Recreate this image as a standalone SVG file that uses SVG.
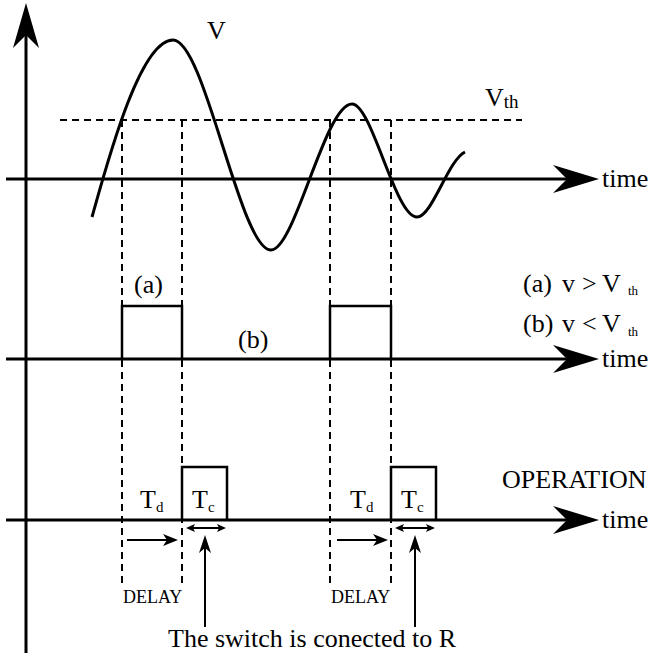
<svg xmlns="http://www.w3.org/2000/svg" width="650" height="657" viewBox="0 0 650 657">
<style>
.ax{stroke:#000;stroke-width:3;fill:none}
.dash{stroke:#000;stroke-width:2;fill:none;stroke-dasharray:7 5}
.pulse{stroke:#000;stroke-width:2.5;fill:none}
.thin{stroke:#000;stroke-width:2;fill:none}
.head{fill:#000;stroke:none}
text{font-family:"Liberation Serif","Times New Roman",serif;fill:#000}
.lg{font-size:26px}
.md{font-size:26px}
.sm{font-size:18px}
</style>
<rect width="650" height="657" fill="#fff"/>
<g id="guides">
<line class="dash" x1="60" y1="120" x2="522" y2="120"/>
<line class="dash" x1="122" y1="120" x2="122" y2="584"/>
<line class="dash" x1="182" y1="120" x2="182" y2="584"/>
<line class="dash" x1="330" y1="120" x2="330" y2="584"/>
<line class="dash" x1="391" y1="120" x2="391" y2="584"/>
</g>
<g id="axes">
<line class="ax" x1="26" y1="30" x2="26" y2="653"/>
<path class="head" d="M26,3 L39,48 L26,35 L13,48 Z"/>
<line class="ax" x1="6" y1="179" x2="570" y2="179"/>
<path class="head" d="M599,179 L553,165 L567,179 L553,193 Z"/>
<line class="ax" x1="6" y1="359" x2="570" y2="359"/>
<path class="head" d="M599,359 L553,345 L567,359 L553,373 Z"/>
<line class="ax" x1="6" y1="520" x2="570" y2="520"/>
<path class="head" d="M599,520 L553,506 L567,520 L553,534 Z"/>
</g>
<g id="signal">
<path class="ax" d="M92,217 C108,160 140,40 173,40 C205,40 240,250 271,250 C295,250 325,104 352,104 C372,104 395,217 417,217 C432,217 448,160 465,152"/>
</g>
<g id="pulses">
<path class="pulse" d="M122,359 L122,306 L182,306 L182,359"/>
<path class="pulse" d="M330,359 L330,306 L391,306 L391,359"/>
<path class="pulse" d="M182,520 L182,467 L227,467 L227,520"/>
<path class="pulse" d="M391,520 L391,467 L436,467 L436,520"/>
</g>
<g id="connectors">
<line class="thin" x1="127" y1="540" x2="170" y2="540"/>
<path class="head" d="M178,540 L163,534 L167,540 L163,546 Z"/>
<line class="thin" x1="337" y1="540" x2="380" y2="540"/>
<path class="head" d="M388,540 L373,534 L377,540 L373,546 Z"/>
<line class="thin" x1="188" y1="528" x2="224" y2="528"/>
<path class="head" d="M186,528 L195,524 L193,528 L195,532 Z"/>
<path class="head" d="M226,528 L217,524 L219,528 L217,532 Z"/>
<line class="thin" x1="397" y1="528" x2="433" y2="528"/>
<path class="head" d="M395,528 L404,524 L402,528 L404,532 Z"/>
<path class="head" d="M435,528 L426,524 L428,528 L426,532 Z"/>
<line class="thin" x1="205" y1="548" x2="205" y2="627"/>
<path class="head" d="M205,535 L211,553 L205,548 L199,553 Z"/>
<line class="thin" x1="415" y1="548" x2="415" y2="627"/>
<path class="head" d="M415,535 L421,553 L415,548 L409,553 Z"/>
</g>
<g id="labels">
<text class="lg" x="207" y="39" font-size="27">V</text>
<text class="lg" x="485" y="106">V<tspan font-size="19" dy="2">th</tspan></text>
<text class="md" x="602" y="187">time</text>
<text class="md" x="602" y="367">time</text>
<text class="md" x="602" y="528">time</text>
<text class="md" x="134" y="293" font-size="28">(a)</text>
<text class="md" x="238" y="348" font-size="28">(b)</text>
<text class="md" y="292" font-size="29"><tspan x="523">(a)</tspan><tspan x="562">v</tspan><tspan x="582">&gt;</tspan><tspan x="602">V</tspan><tspan x="628" font-size="13" dy="3">th</tspan></text>
<text class="md" y="332" font-size="29"><tspan x="523">(b)</tspan><tspan x="562">v</tspan><tspan x="582">&lt;</tspan><tspan x="602">V</tspan><tspan x="628" font-size="13" dy="4">th</tspan></text>
<text class="md" x="140" y="508" font-size="28">T<tspan font-size="15" dy="4">d</tspan></text>
<text class="md" x="192" y="508" font-size="28">T<tspan font-size="15" dy="4">c</tspan></text>
<text class="md" x="350" y="508" font-size="28">T<tspan font-size="15" dy="4">d</tspan></text>
<text class="md" x="401" y="508" font-size="28">T<tspan font-size="15" dy="4">c</tspan></text>
<text class="md" x="502" y="488" font-size="24">OPERATION</text>
<text class="sm" x="123" y="603">DELAY</text>
<text class="sm" x="331" y="603">DELAY</text>
<text class="md" x="168" y="647">The switch is conected to R</text>
</g>
</svg>
